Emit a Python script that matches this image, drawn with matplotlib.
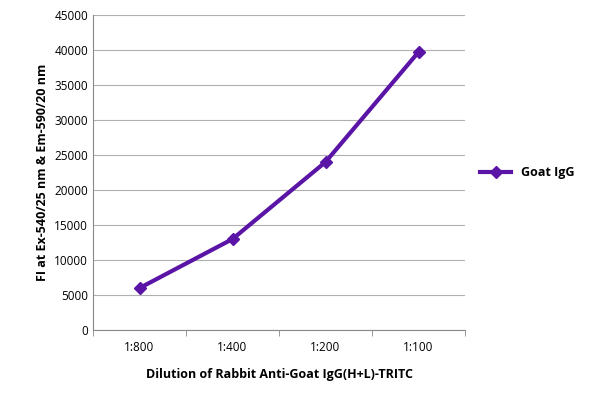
import matplotlib
matplotlib.use("Agg")
import matplotlib.pyplot as plt

dilutions = ["1:800", "1:400", "1:200", "1:100"]
goat_igg = [6000, 13000, 24000, 39700]

plt.rcParams["font.family"] = ["Open Sans", "DejaVu Sans"]

fig = plt.figure(figsize=(6, 4.05), dpi=100)
ax = fig.add_axes([0.155, 0.185, 0.62, 0.778])

x = range(len(dilutions))
ax.plot(x, goat_igg, color="#5a14a6", linewidth=3, marker="D", markersize=6,
        label="Goat IgG")

ax.set_xlim(-0.5, len(dilutions) - 0.5)
ax.set_ylim(0, 45000)
ax.set_yticks(range(0, 45001, 5000))
ax.set_xticks(list(x))
ax.set_xticklabels(dilutions)
# small tick marks between categories
ax.set_xticks([i - 0.5 for i in range(len(dilutions) + 1)], minor=True)
ax.tick_params(axis="x", which="minor", length=4, color="#888888")
ax.tick_params(labelsize=8.5, length=0)
ax.tick_params(axis="x", pad=8)
ax.yaxis.grid(True, color="#b0b0b0", linewidth=0.8)
ax.set_axisbelow(True)
for side in ["top", "right"]:
    ax.spines[side].set_visible(False)
for side in ["left", "bottom"]:
    ax.spines[side].set_color("#888888")

ax.set_xlabel("Dilution of Rabbit Anti-Goat IgG(H+L)-TRITC", fontsize=9,
              fontweight="bold", labelpad=10)
ax.set_ylabel("FI at Ex-540/25 nm & Em-590/20 nm", fontsize=9,
              fontweight="bold")

ax.legend(loc="center left", bbox_to_anchor=(1.01, 0.5), frameon=False,
          prop={"weight": "bold", "size": 9}, handlelength=2.5)

fig.savefig("out.png", dpi=100)
